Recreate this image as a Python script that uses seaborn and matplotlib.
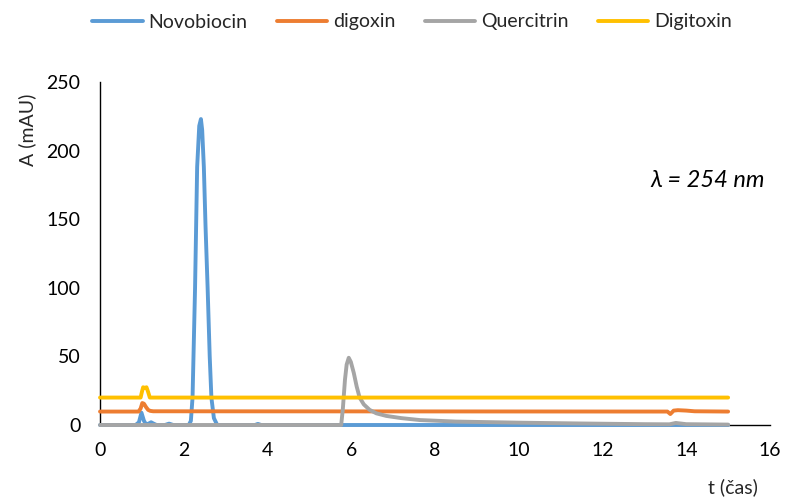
import matplotlib
matplotlib.use("Agg")
import matplotlib.pyplot as plt
import seaborn as sns
import pandas as pd

# ---- data ----
nov_t = [0, 0.85, 0.93, 0.99, 1.05, 1.1, 1.16, 1.22, 1.28, 1.35, 1.55, 1.65, 1.75,
         2.12, 2.17, 2.21, 2.27, 2.32, 2.37, 2.41, 2.44, 2.48, 2.52, 2.57, 2.62, 2.66, 2.72, 2.8,
         3.7, 3.77, 3.85, 15.0]
nov_v = [0, 0, 2, 9, 3, 0.5, 1, 2, 1, 0, 0, 1, 0,
         0, 3, 20, 100, 188, 218, 223, 215, 188, 145, 100, 50, 20, 5, 0,
         0, 0.8, 0, 0]

dig_t = [0, 0.92, 0.97, 1.01, 1.05, 1.1, 1.15, 1.2, 1.27, 13.55, 13.62, 13.7, 13.8, 14.0, 14.2, 15.0]
dig_v = [9.8, 9.8, 12, 16, 15.5, 13, 11, 10.3, 10, 9.8, 8, 10.5, 10.8, 10.5, 10, 9.8]

que_t = [0, 5.76, 5.8, 5.85, 5.89, 5.94, 5.99, 6.06, 6.13, 6.2, 6.3, 6.44, 6.6, 6.84,
         7.2, 7.64, 8.5, 10.0, 11.5, 13.0, 13.6, 13.75, 14.0, 15.0]
que_v = [0, 0, 12, 33, 44, 49, 46, 38, 28, 20, 15, 11, 8.5, 6.6,
         5, 3.6, 2.5, 1.7, 1.1, 0.6, 0.5, 1.5, 0.6, 0.3]

dtx_t = [0, 0.97, 1.0, 1.03, 1.07, 1.11, 1.15, 1.19, 15.0]
dtx_v = [20, 20, 24, 27.5, 27, 27.5, 24, 20, 20]

series_names = ["Novobiocin", "digoxin", "Quercitrin", "Digitoxin"]
series_t = [nov_t, dig_t, que_t, dtx_t]
series_v = [nov_v, dig_v, que_v, dtx_v]
colors = ["#5B9BD5", "#ED7D31", "#A5A5A5", "#FFC000"]

x_ticks = [0, 2, 4, 6, 8, 10, 12, 14, 16]
y_ticks = [0, 50, 100, 150, 200, 250]

rows = []
for name, ts, vs in zip(series_names, series_t, series_v):
    for t, v in zip(ts, vs):
        rows.append({"t": t, "A": v, "series": name})
df = pd.DataFrame(rows)

sns.set_style("white")
plt.rcParams["font.family"] = ["Lato", "DejaVu Sans"]

fig = plt.figure(figsize=(7.85, 4.99), dpi=100)
ax = fig.add_axes([100 / 785, 74 / 499, 670 / 785, 343 / 499])

sns.lineplot(data=df, x="t", y="A", hue="series", hue_order=series_names,
             palette=colors, sort=False, estimator=None, linewidth=2.8,
             ax=ax, legend=False)
for ln in ax.lines:
    ln.set_clip_on(False)
    ln.set_solid_capstyle("round")

ax.set_xlim(0, 16)
ax.set_ylim(0, 250)
ax.set_xticks(x_ticks)
ax.set_yticks(y_ticks)
ax.tick_params(axis="both", length=0, labelsize=14, labelcolor="#000000")
ax.tick_params(axis="x", pad=12)
ax.tick_params(axis="y", pad=14)
ax.set_xlabel("")
ax.set_ylabel("")
for s in ["top", "right"]:
    ax.spines[s].set_visible(False)
for s in ["left", "bottom"]:
    ax.spines[s].set_color("#000000")
    ax.spines[s].set_linewidth(1.0)
    ax.spines[s].set_zorder(0)

ax.text(14.5, 178, "λ = 254 nm", style="italic", fontsize=17,
        ha="center", va="center", color="#000000")

fig.text(27 / 785, 1 - 130 / 499, "A (mAU)", rotation=90, ha="center",
         va="center", fontsize=14)
fig.text(733 / 785, 1 - 487 / 499, "t (čas)", ha="center", va="center",
         fontsize=14)

handles = [plt.Line2D([0], [0], color=c, lw=2.8, solid_capstyle="round") for c in colors]
fig.legend(handles, series_names, loc="center", bbox_to_anchor=(0.525, 1 - 22 / 499),
           ncol=4, frameon=False, fontsize=14, handlelength=2.6,
           handletextpad=0.3, columnspacing=1.5)

fig.savefig("out.png", dpi=100)
